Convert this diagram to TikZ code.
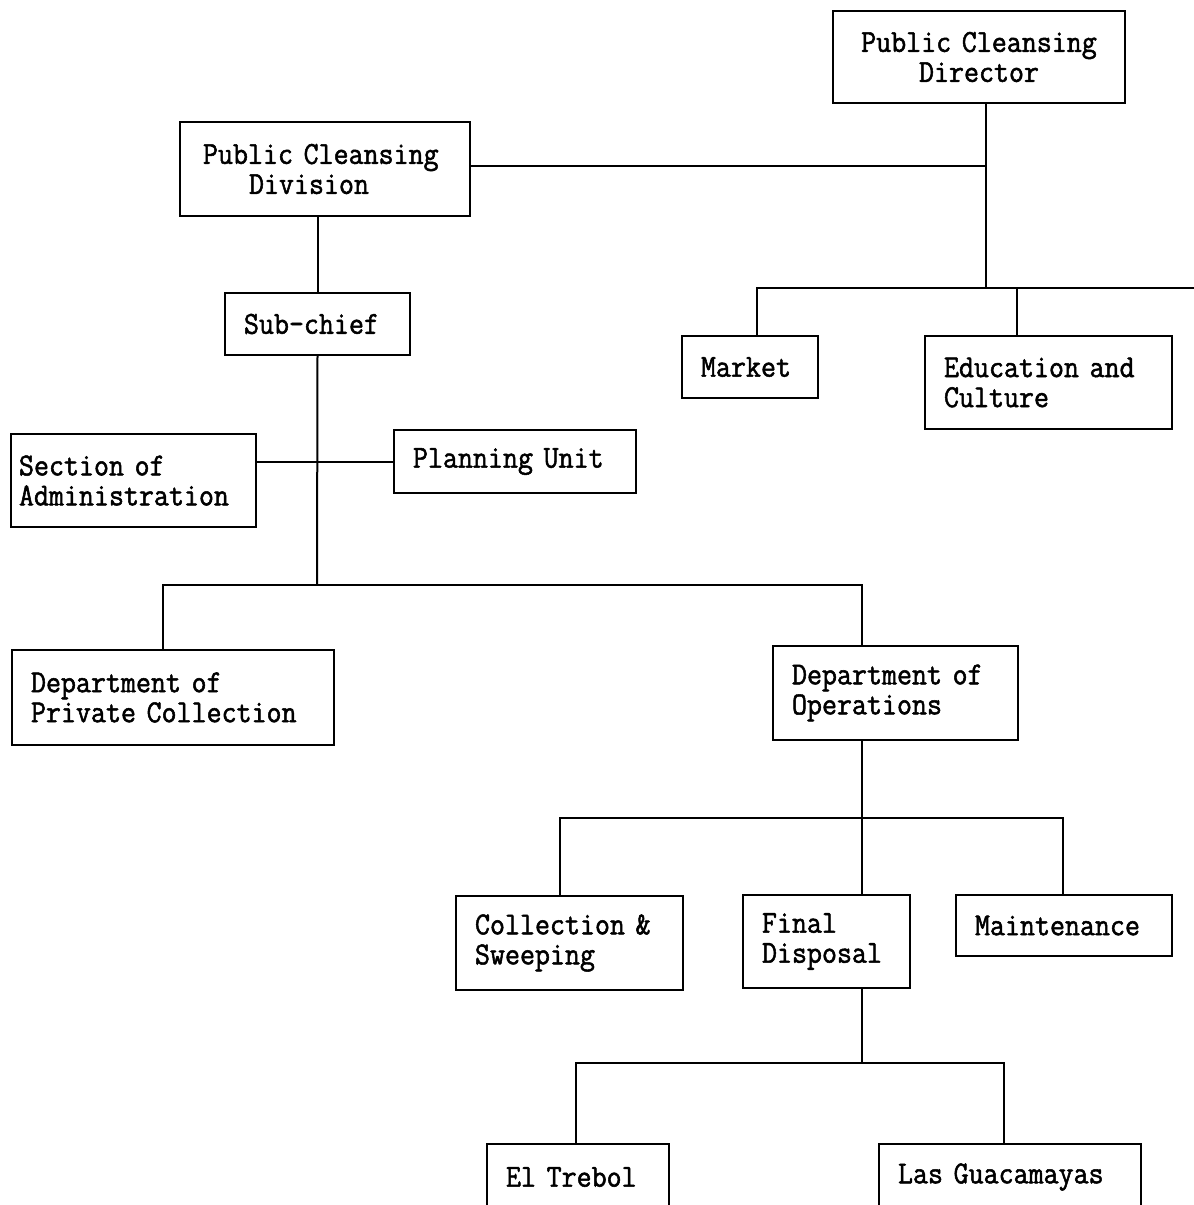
\documentclass[tikz,border=0pt]{standalone}
\usepackage{fontspec}
\newfontfamily\typewriter{Latin Modern Mono}[FakeStretch=0.91,FakeBold=1.6]

\begin{document}
\begin{tikzpicture}[x=0.5pt,y=-0.5pt,line width=1pt,
  unit/.style={draw, anchor=north west, align=left, inner xsep=9.5pt, inner ysep=0pt,
    font=\typewriter\fontsize{16}{15}\selectfont},
  chief/.style={unit, align=center}]

  \clip (0,0) rectangle (1194,1205);

  % Director and division
  \node[chief, text width=127pt, minimum height=46pt] (cleansing_director) at (832,10) {Public Cleansing\\Director};
  \node[unit, text width=126pt, minimum height=47pt] (cleansing_division) at (179,121) {\hspace*{2pt}Public Cleansing\\\hspace*{25pt}Division};

  % Units under the director
  \node[unit, text width=49pt, minimum height=31pt] (market) at (681,335) {Market};
  \node[unit, text width=104.5pt, minimum height=46.5pt] (education) at (924,335) {Education and\\Culture};

  % Units under the division
  \node[unit, text width=73.5pt, minimum height=31pt] (subchief) at (224,292) {Sub-chief};
  \node[unit, inner xsep=4pt, text width=114.5pt, minimum height=46.5pt] (administration) at (10,433) {Section of\\Administration};
  \node[unit, text width=102pt, minimum height=31.5pt] (planning_unit) at (393,429) {Planning Unit};
  \node[unit, text width=142pt, minimum height=47.5pt] (private_collection) at (11,649) {Department of\\Private Collection};
  \node[unit, text width=103.5pt, minimum height=47pt] (operations) at (772,645) {Department of\\Operations};

  % Operations
  \node[unit, text width=94.5pt, minimum height=47pt] (collection) at (455,895) {Collection \&\\Sweeping};
  \node[unit, text width=64.5pt, minimum height=46.5pt] (final_disposal) at (742,894) {Final\\Disposal};
  \node[unit, text width=89pt, minimum height=30.5pt] (maintenance) at (955,894) {Maintenance};

  % Disposal sites
  \node[unit, text width=72pt, minimum height=33pt] (el_trebol) at (486,1143) {El Trebol};
  \node[unit, text width=112pt, minimum height=33pt] (las_guacamayas) at (878,1143) {Las Guacamayas};

  % Top lines
  \coordinate (top_bus) at (986,288);
  \coordinate (market_drop) at (757,288);
  \coordinate (education_drop) at (1017,288);
  \coordinate (bus_end) at (1194,288);
  \draw (cleansing_director.south -| top_bus) -- (top_bus);
  \draw ([yshift=1.5pt]cleansing_division.east) -- ([yshift=1.5pt]cleansing_division.east -| top_bus);
  \draw (market.north -| market_drop) -- (market_drop) -- (bus_end);
  \draw (education_drop) -- (education_drop |- education.north);

  % Division lines
  \coordinate (middle_bus) at (317,585);
  \coordinate (private_drop) at (163,585);
  \coordinate (operations_drop) at (862,585);
  \draw (subchief.north) -- (subchief.north |- cleansing_division.south);
  \draw (subchief.south) -- (middle_bus);
  \draw (administration.east |- planning_unit.west) -- (planning_unit.west);
  \draw (private_collection.north -| private_drop) -- (private_drop) -- (operations_drop) -- (operations_drop |- operations.north);

  % Operations lines
  \coordinate (collection_drop) at (560,818);
  \coordinate (maintenance_drop) at (1063,818);
  \draw (operations.south -| operations_drop) -- (final_disposal.north -| operations_drop);
  \draw (collection.north -| collection_drop) -- (collection_drop) -- (maintenance_drop) -- (maintenance_drop |- maintenance.north);

  % Site lines
  \coordinate (site_bus) at (862,1063);
  \coordinate (trebol_drop) at (576,1063);
  \coordinate (guacamayas_drop) at (1004,1063);
  \draw (final_disposal.south -| site_bus) -- (site_bus);
  \draw (el_trebol.north -| trebol_drop) -- (trebol_drop) -- (guacamayas_drop) -- (guacamayas_drop |- las_guacamayas.north);

\end{tikzpicture}
\end{document}
